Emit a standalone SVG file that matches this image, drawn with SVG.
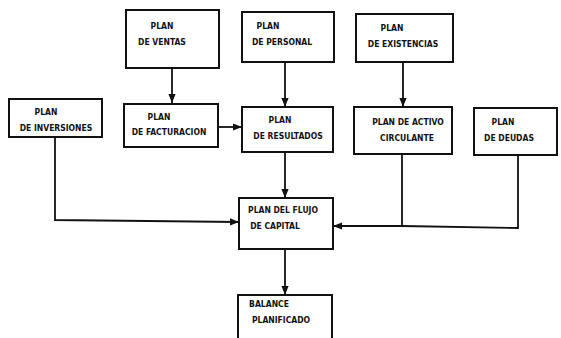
<svg xmlns="http://www.w3.org/2000/svg" width="561" height="338" viewBox="0 0 561 338">
<style>
.box{fill:#fff;stroke:#111;stroke-width:2}
.t{font-family:"DejaVu Sans Condensed","DejaVu Sans",sans-serif;font-weight:bold;font-size:8.5px;fill:#111;text-anchor:middle}
.c{fill:none;stroke:#111;stroke-width:1.8}
</style>
<defs>
<marker id="ah" viewBox="0 0 10 10" refX="10" refY="5" markerWidth="5" markerHeight="5" orient="auto" markerUnits="strokeWidth">
<path d="M0,1 L10,5 L0,9 z" fill="#111"/>
</marker>
</defs>
<rect width="561" height="338" fill="#fff"/>
<g id="connectors">
<line class="c" x1="172" y1="68" x2="172" y2="103" marker-end="url(#ah)"/>
<line class="c" x1="285" y1="62" x2="285" y2="107" marker-end="url(#ah)"/>
<line class="c" x1="403" y1="62" x2="403" y2="107" marker-end="url(#ah)"/>
<line class="c" x1="218" y1="127" x2="242" y2="127" marker-end="url(#ah)"/>
<polyline class="c" points="55,137 55,220 239,222" marker-end="url(#ah)"/>
<line class="c" x1="285" y1="152" x2="285" y2="198" marker-end="url(#ah)"/>
<polyline class="c" points="518,155 518,228 402,226"/>
<polyline class="c" points="402,154 402,226 333,226" marker-end="url(#ah)"/>
<line class="c" x1="285" y1="249" x2="285" y2="295" marker-end="url(#ah)"/>
</g>
<g id="ventas"><rect class="box" x="126" y="10" width="93" height="58"/><text class="t" x="162" y="29">PLAN</text><text class="t" x="162" y="45">DE VENTAS</text></g>
<g id="personal"><rect class="box" x="242" y="12" width="92" height="50"/><text class="t" x="268" y="29">PLAN</text><text class="t" x="282" y="45">DE PERSONAL</text></g>
<g id="existencias"><rect class="box" x="356" y="14" width="97" height="48"/><text class="t" x="392" y="31">PLAN</text><text class="t" x="403" y="47">DE EXISTENCIAS</text></g>
<g id="inversiones"><rect class="box" x="9" y="99" width="93" height="38"/><text class="t" x="46" y="115">PLAN</text><text class="t" x="56" y="131">DE INVERSIONES</text></g>
<g id="facturacion"><rect class="box" x="124" y="104" width="94" height="43"/><text class="t" x="159" y="120">PLAN</text><text class="t" x="169" y="135">DE FACTURACION</text></g>
<g id="resultados"><rect class="box" x="242" y="107" width="91" height="45"/><text class="t" x="280" y="123">PLAN</text><text class="t" x="288" y="139">DE RESULTADOS</text></g>
<g id="activo"><rect class="box" x="354" y="107" width="98" height="47"/><text class="t" x="408" y="125">PLAN DE ACTIVO</text><text class="t" x="407" y="141">CIRCULANTE</text></g>
<g id="deudas"><rect class="box" x="474" y="108" width="83" height="47"/><text class="t" x="503" y="125">PLAN</text><text class="t" x="509" y="141">DE DEUDAS</text></g>
<g id="flujo"><rect class="box" x="239" y="198" width="94" height="51"/><text class="t" x="283" y="213">PLAN DEL FLUJO</text><text class="t" x="275" y="229">DE CAPITAL</text></g>
<g id="balance"><rect class="box" x="238" y="295" width="94" height="50"/><text class="t" x="269" y="307">BALANCE</text><text class="t" x="281" y="323">PLANIFICADO</text></g>
</svg>
